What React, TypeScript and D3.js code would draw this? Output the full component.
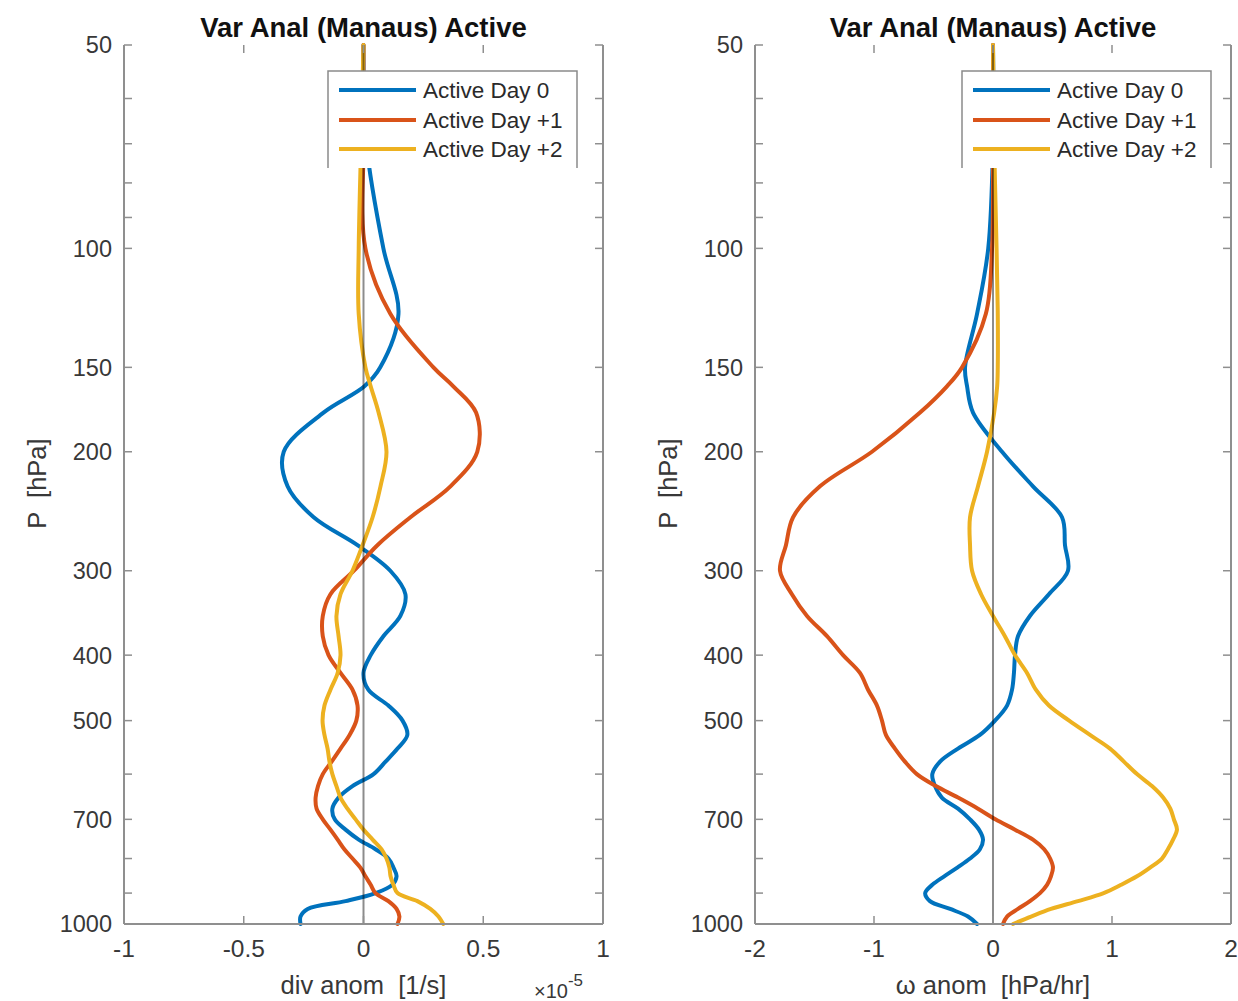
import React from "react";
import * as d3 from "d3";

// Pressure levels (hPa)
const pressureLevels = [50, 70, 100, 125, 150, 160, 175, 200, 225, 250, 275, 300, 325, 350, 375, 400, 425, 450, 475, 500, 525, 550, 575, 600, 625, 650, 675, 700, 725, 750, 775, 800, 825, 850, 875, 900, 925, 950, 975, 1000];

// Divergence anomaly (x 1e-5 1/s)
const divDay0 = [0.0, 0.012, 0.083, 0.146, 0.07, 0.004, -0.167, -0.333, -0.317, -0.208, -0.025, 0.112, 0.175, 0.154, 0.083, 0.03, 0.0, 0.02, 0.104, 0.163, 0.183, 0.142, 0.092, 0.042, -0.046, -0.104, -0.13, -0.12, -0.075, -0.02, 0.05, 0.104, 0.125, 0.138, 0.12, 0.05, -0.075, -0.233, -0.263, -0.263];
const divDay1 = [0.0, 0.0, 0.008, 0.112, 0.292, 0.375, 0.47, 0.475, 0.363, 0.196, 0.058, -0.04, -0.138, -0.17, -0.17, -0.146, -0.096, -0.046, -0.025, -0.03, -0.058, -0.096, -0.133, -0.17, -0.19, -0.2, -0.196, -0.17, -0.138, -0.108, -0.08, -0.046, -0.013, 0.008, 0.03, 0.05, 0.104, 0.138, 0.15, 0.142];
const divDay2 = [0.0, -0.01, -0.02, -0.02, 0.008, 0.03, 0.063, 0.096, 0.071, 0.038, -0.004, -0.046, -0.096, -0.113, -0.104, -0.096, -0.108, -0.138, -0.163, -0.171, -0.163, -0.15, -0.142, -0.13, -0.113, -0.096, -0.067, -0.033, 0.0, 0.038, 0.075, 0.096, 0.108, 0.113, 0.125, 0.142, 0.225, 0.279, 0.313, 0.333];

// Omega anomaly (hPa/hr)
const omegaDay0 = [0.0, 0.0, -0.04, -0.134, -0.235, -0.218, -0.168, 0.076, 0.336, 0.58, 0.605, 0.63, 0.47, 0.31, 0.21, 0.185, 0.176, 0.16, 0.118, 0.017, -0.11, -0.294, -0.445, -0.51, -0.487, -0.43, -0.294, -0.193, -0.118, -0.084, -0.11, -0.193, -0.3, -0.41, -0.51, -0.57, -0.53, -0.36, -0.21, -0.134];
const omegaDay1 = [0.0, 0.0, -0.008, -0.06, -0.26, -0.387, -0.613, -1.017, -1.454, -1.68, -1.74, -1.79, -1.69, -1.563, -1.395, -1.26, -1.118, -1.05, -0.975, -0.933, -0.9, -0.824, -0.74, -0.64, -0.48, -0.294, -0.126, 0.02, 0.185, 0.336, 0.43, 0.48, 0.504, 0.487, 0.454, 0.395, 0.31, 0.21, 0.118, 0.084];
const omegaDay2 = [0.0, 0.01, 0.03, 0.04, 0.04, 0.035, 0.01, -0.05, -0.126, -0.193, -0.193, -0.176, -0.1, 0.0, 0.1, 0.185, 0.286, 0.36, 0.47, 0.64, 0.815, 0.983, 1.1, 1.21, 1.336, 1.43, 1.49, 1.52, 1.546, 1.513, 1.47, 1.42, 1.32, 1.21, 1.076, 0.93, 0.714, 0.487, 0.32, 0.168];

const seriesNames = ["Active Day 0", "Active Day +1", "Active Day +2"];
const seriesColors = ["#0072BD", "#D95319", "#EDB120"];

const yMajorTicks = [50, 100, 150, 200, 300, 400, 500, 700, 1000];
const yMinorTicks = [60, 70, 80, 90, 600, 800, 900];

const divTicks = [-1, -0.5, 0, 0.5, 1];
const omegaTicks = [-2, -1, 0, 1, 2];

const titleText = "Var Anal (Manaus) Active";

const FONT = "'Liberation Sans', Arial, Helvetica, sans-serif";

const yScale = d3.scaleLog().domain([50, 1000]).range([45, 924]);

type PanelProps = {
  x0: number;
  x1: number;
  domain: [number, number];
  ticks: number[];
  series: number[][];
  xlabel: string;
  exponent: boolean;
  legendLeft: number;
};

const pre = { whiteSpace: "pre" as const };

function Panel({ x0, x1, domain, ticks, series, xlabel, exponent, legendLeft }: PanelProps) {
  const xScale = d3.scaleLinear().domain(domain).range([x0, x1]);
  const [yTop, yBot] = yScale.range();
  const cx = (x0 + x1) / 2;
  const line = d3
    .line<number>()
    .x((v) => xScale(v))
    .y((_, i) => yScale(pressureLevels[i]))
    .curve(d3.curveCatmullRom.alpha(0.5));
  const axisColor = "#8f8f8f";
  const textColor = "#383838";
  const tickLen = 8;
  const legW = 249;
  const legTop = 71;
  const legBottom = 168;
  const rowY = [90, 120, 149];

  return (
    <g>
      {/* data */}
      {series.map((s, i) => (
        <path key={i} d={line(s) || ""} fill="none" stroke={seriesColors[i]} strokeWidth={4} strokeLinejoin="round" strokeLinecap="round" />
      ))}
      {/* zero line */}
      <line x1={xScale(0)} x2={xScale(0)} y1={yTop} y2={yBot} stroke="#000" strokeOpacity={0.45} strokeWidth={2} />

      {/* axes */}
      <line x1={x0} x2={x0} y1={yTop} y2={yBot} stroke={axisColor} strokeWidth={2} />
      <line x1={x1} x2={x1} y1={yTop} y2={yBot} stroke={axisColor} strokeWidth={2} />
      <line x1={x0} x2={x1} y1={yBot} y2={yBot} stroke={axisColor} strokeWidth={2} />

      {/* y ticks */}
      {[...yMajorTicks, ...yMinorTicks].map((p) => (
        <g key={"yt" + p}>
          <line x1={x0} x2={x0 + tickLen} y1={yScale(p)} y2={yScale(p)} stroke={axisColor} strokeWidth={1.5} />
          <line x1={x1} x2={x1 - tickLen} y1={yScale(p)} y2={yScale(p)} stroke={axisColor} strokeWidth={1.5} />
        </g>
      ))}
      {yMajorTicks.map((p) => (
        <text key={"yl" + p} x={x0 - 12} y={yScale(p)} dy="0.36em" textAnchor="end" fontFamily={FONT} fontSize={23.5} fill={textColor}>
          {p}
        </text>
      ))}

      {/* x ticks */}
      {ticks.map((t) => (
        <g key={"xt" + t}>
          <line x1={xScale(t)} x2={xScale(t)} y1={yBot} y2={yBot - tickLen} stroke={axisColor} strokeWidth={1.5} />
          <line x1={xScale(t)} x2={xScale(t)} y1={yTop} y2={yTop + tickLen} stroke={axisColor} strokeWidth={1.5} />
          <text x={xScale(t)} y={957} textAnchor="middle" fontFamily={FONT} fontSize={24.5} fill={textColor}>
            {String(t)}
          </text>
        </g>
      ))}

      {/* labels */}
      <text x={cx} y={994} textAnchor="middle" fontFamily={FONT} fontSize={25.5} fill={textColor} style={pre}>
        {xlabel}
      </text>
      {exponent && (
        <text x={x1 - 69} y={998} fontFamily={FONT} fontSize={20} fill={textColor}>
          ×10
          <tspan dy={-12} fontSize={17}>-5</tspan>
        </text>
      )}
      <text transform={`translate(${x0 - 78},${(yTop + yBot) / 2 - 1}) rotate(-90)`} textAnchor="middle" fontFamily={FONT} fontSize={25.5} fill={textColor} style={pre}>
        P  [hPa]
      </text>
      <text x={cx} y={37} textAnchor="middle" fontFamily={FONT} fontSize={27.5} fontWeight="bold" fill="#111">
        {titleText}
      </text>

      {/* legend */}
      <rect x={legendLeft} y={legTop} width={legW} height={legBottom - legTop} fill="#fff" />
      <path
        d={`M${legendLeft},${legBottom} V${legTop} H${legendLeft + legW} V${legBottom}`}
        fill="none"
        stroke="#8a8a8a"
        strokeWidth={1.5}
      />
      {seriesNames.map((n, i) => (
        <g key={n}>
          <line x1={legendLeft + 11} x2={legendLeft + 88} y1={rowY[i]} y2={rowY[i]} stroke={seriesColors[i]} strokeWidth={4} />
          <text x={legendLeft + 95} y={rowY[i]} dy="0.35em" fontFamily={FONT} fontSize={22.5} fill="#2a2a2a">
            {n}
          </text>
        </g>
      ))}
    </g>
  );
}

export default function App() {
  return (
    <svg
      width={1238}
      height={1001}
      viewBox="0 0 1238 1001"
      style={{ position: "absolute", left: 0, top: 0, background: "#fff" }}
    >
      <rect width={1238} height={1001} fill="#fff" />
      <Panel
        x0={124}
        x1={603}
        domain={[-1, 1]}
        ticks={divTicks}
        series={[divDay0, divDay1, divDay2]}
        xlabel="div anom  [1/s]"
        exponent={true}
        legendLeft={328}
      />
      <Panel
        x0={755}
        x1={1231}
        domain={[-2, 2]}
        ticks={omegaTicks}
        series={[omegaDay0, omegaDay1, omegaDay2]}
        xlabel="ω anom  [hPa/hr]"
        exponent={false}
        legendLeft={962}
      />
    </svg>
  );
}
